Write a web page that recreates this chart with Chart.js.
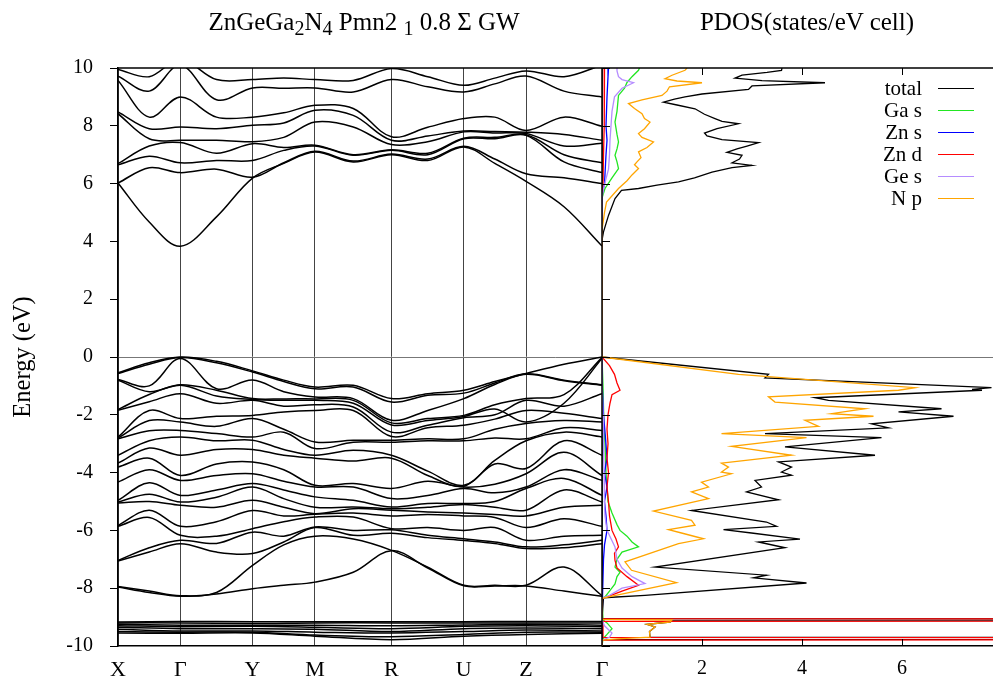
<!DOCTYPE html>
<html>
<head>
<meta charset="utf-8">
<script src="https://cdn.jsdelivr.net/npm/chart.js@4.4.1/dist/chart.umd.min.js"></script>
<style>
  body { margin: 0; background: #fff; }
  #wrap { position: relative; width: 993px; height: 683px; font-family: "Liberation Serif", serif; color: #000; }
  #chart { position: absolute; left: 0; top: 0; }
  .title { position: absolute; top: 9px; font-size: 25px; line-height: 25px; white-space: nowrap; transform: translateX(-50%); }
  .title sub { font-size: 20px; vertical-align: -5px; line-height: 0; }
  #legend { position: absolute; right: 19px; top: 77px; font-size: 21px; }
  #legend div { height: 22.1px; display: flex; align-items: center; justify-content: flex-end; }
  #legend span.sw { display: inline-block; width: 36px; height: 0; border-top: 1.5px solid; margin-left: 16px; }
</style>
</head>
<body>
<div id="wrap">
  <canvas id="chart" width="993" height="683"></canvas>
  <div class="title" style="left:364px">ZnGeGa<sub>2</sub>N<sub>4</sub> Pmn2 <sub>1</sub> 0.8 Σ GW</div>
  <div class="title" style="left:807px">PDOS(states/eV cell)</div>
  <div id="legend"></div>
</div>
<script>
// high symmetry points along the path
const kPos = [0, 0.129, 0.278, 0.407, 0.565, 0.7145, 0.843, 1.0];
const kLabels = ["X", "Γ", "Y", "M", "R", "U", "Z", "Γ"];
// sample points: high symmetry points plus the middle of each segment
const kGrid = [0, 0.0645, 0.129, 0.2035, 0.278, 0.3425, 0.407, 0.486, 0.565, 0.64, 0.7145, 0.7785, 0.843, 0.9215, 1.0];

// conduction bands (eV), one row per point of kGrid
const conduction = [
  [6.02, 6.02, 6.65, 6.69, 8.42, 8.48, 9.57, 9.72, 9.95, 10.3],
  [4.67, 6.55, 6.95, 7.30, 7.55, 7.90, 8.30, 9.20, 9.70, 10.2],
  [3.83, 6.38, 6.72, 7.42, 7.50, 7.96, 9.00, 10.1, 10.3, 10.5],
  [4.85, 6.50, 6.80, 7.05, 7.50, 7.90, 8.30, 8.90, 9.60, 10.2],
  [6.19, 6.22, 6.80, 7.38, 7.45, 8.02, 8.30, 9.31, 9.60, 10.1],
  [6.70, 6.72, 7.15, 7.25, 7.60, 8.10, 8.45, 9.30, 9.65, 10.2],
  [7.09, 7.12, 7.30, 7.33, 8.13, 8.54, 8.71, 9.31, 9.60, 10.2],
  [6.75, 6.78, 6.98, 7.00, 7.96, 8.36, 8.60, 9.17, 9.57, 10.2],
  [7.00, 7.02, 7.15, 7.17, 7.35, 7.50, 7.62, 9.60, 9.98, 10.3],
  [6.80, 6.85, 7.00, 7.05, 7.45, 7.65, 7.95, 9.35, 9.70, 10.2],
  [7.27, 7.29, 7.55, 7.57, 7.79, 7.82, 8.25, 9.17, 9.40, 10.2],
  [6.70, 6.85, 7.55, 7.60, 7.75, 7.80, 8.30, 9.45, 9.65, 10.2],
  [6.08, 6.34, 7.67, 7.69, 7.73, 7.78, 7.84, 9.72, 9.90, 10.2],
  [5.20, 6.20, 6.75, 7.00, 7.30, 7.70, 8.30, 9.20, 9.70, 10.2],
  [3.84, 6.00, 6.38, 6.72, 7.40, 7.50, 7.98, 9.00, 10.1, 10.3],
];

// valence bands (eV), one row per point of kGrid
const valence = [
  [-0.55, -0.57, -0.78, -0.80, -1.82, -1.84, -2.77, -2.80, -2.83, -3.40, -3.67, -3.81, -4.33, -4.96, -5.02, -5.05, -5.83, -5.86, -7.04, -7.06, -7.94, -7.96],
  [-0.20, -0.25, -1.00, -1.20, -1.30, -1.55, -1.85, -2.20, -2.55, -2.90, -3.15, -3.50, -3.90, -4.35, -4.75, -5.00, -5.30, -5.55, -6.60, -6.75, -8.10, -8.15],
  [0.00, -0.02, -0.05, -0.96, -0.98, -1.27, -2.13, -2.25, -2.54, -2.77, -3.40, -4.10, -4.27, -4.79, -5.02, -5.13, -5.86, -6.17, -6.34, -6.46, -8.26, -8.28],
  [-0.15, -0.20, -1.10, -1.15, -1.35, -1.60, -2.05, -2.40, -2.65, -2.90, -3.20, -3.70, -4.10, -4.60, -4.85, -5.20, -5.70, -6.20, -6.45, -6.75, -8.15, -8.20],
  [-0.48, -0.52, -0.80, -1.44, -1.47, -1.50, -2.02, -2.13, -2.77, -2.88, -3.20, -3.63, -4.04, -4.38, -4.50, -4.96, -5.31, -5.94, -6.06, -6.80, -7.21, -8.02],
  [-0.80, -0.85, -1.20, -1.45, -1.50, -1.70, -1.90, -2.50, -2.60, -3.20, -3.40, -3.90, -4.30, -4.60, -4.90, -5.20, -5.50, -5.70, -6.20, -6.40, -6.50, -7.90],
  [-1.04, -1.10, -1.38, -1.45, -1.50, -1.65, -1.85, -2.94, -3.17, -3.40, -3.50, -4.44, -4.50, -4.84, -5.20, -5.42, -5.44, -5.54, -5.88, -5.90, -6.20, -7.79],
  [-0.98, -1.04, -1.44, -1.50, -1.60, -1.73, -1.85, -2.88, -2.95, -3.23, -3.60, -4.38, -4.50, -4.96, -5.19, -5.25, -5.40, -5.54, -6.00, -6.17, -6.30, -7.45],
  [-1.44, -1.56, -2.19, -2.28, -2.35, -2.60, -2.75, -2.88, -2.95, -3.40, -3.50, -4.55, -4.90, -5.19, -5.25, -5.30, -5.50, -5.94, -5.98, -6.10, -6.69, -6.70],
  [-1.27, -1.32, -1.85, -2.13, -2.20, -2.36, -2.45, -2.83, -2.90, -3.95, -4.10, -4.30, -4.79, -5.07, -5.20, -5.36, -5.45, -5.90, -6.17, -6.25, -7.27, -7.30],
  [-1.15, -1.25, -1.44, -2.02, -2.06, -2.10, -2.36, -2.83, -2.90, -4.44, -4.47, -4.50, -4.55, -5.07, -5.10, -5.40, -5.50, -6.00, -6.29, -6.35, -7.90, -7.92],
  [-0.85, -0.90, -0.95, -1.65, -1.80, -2.00, -2.15, -2.50, -2.80, -3.58, -3.70, -4.40, -4.70, -5.00, -5.20, -5.45, -5.55, -5.90, -6.40, -6.45, -7.90, -7.92],
  [-0.57, -0.58, -0.60, -1.44, -2.25, -1.50, -1.85, -2.30, -2.83, -2.90, -3.86, -4.04, -4.50, -4.55, -5.30, -5.50, -5.90, -6.34, -6.57, -6.63, -7.90, -7.92],
  [-0.25, -0.80, -0.82, -1.30, -1.60, -1.70, -1.95, -2.20, -2.45, -2.60, -2.90, -3.30, -3.90, -4.20, -4.60, -5.20, -5.60, -6.20, -6.50, -6.60, -7.27, -8.10],
  [0.00, -0.96, -0.98, -0.02, -0.05, -1.27, -2.13, -2.25, -2.54, -2.77, -3.40, -4.10, -4.27, -4.79, -5.02, -5.13, -5.86, -6.17, -6.34, -6.46, -8.26, -8.28],
];

// Zn d bands (eV), one row per high symmetry point
const znDBands = [
  [-9.17, -9.20, -9.25, -9.30, -9.35, -9.42, -9.50, -9.55],
  [-9.15, -9.20, -9.28, -9.33, -9.40, -9.48, -9.52, -9.56],
  [-9.16, -9.22, -9.28, -9.32, -9.40, -9.48, -9.52, -9.55],
  [-9.16, -9.20, -9.28, -9.35, -9.42, -9.52, -9.62, -9.66],
  [-9.16, -9.20, -9.30, -9.40, -9.50, -9.55, -9.68, -9.78],
  [-9.16, -9.20, -9.27, -9.32, -9.40, -9.50, -9.60, -9.66],
  [-9.15, -9.20, -9.25, -9.30, -9.38, -9.45, -9.52, -9.60],
  [-9.15, -9.20, -9.28, -9.33, -9.40, -9.48, -9.52, -9.56],
];

// PDOS curves as [energy, states/eV cell]
const pdosTotal = [
  [10.0, 3.6], [9.92, 3.59], [9.85, 3.3], [9.75, 2.8], [9.65, 2.66], [9.56, 3.2], [9.49, 4.46], [9.38, 3.0],
  [9.26, 2.93], [9.1, 2.0], [9.0, 1.66], [8.92, 1.45], [8.82, 1.23], [8.72, 1.5], [8.59, 1.86], [8.4, 2.05],
  [8.25, 2.26], [8.15, 2.4], [8.07, 2.73], [7.9, 2.3], [7.75, 2.05], [7.65, 2.1], [7.52, 2.4], [7.42, 3.13],
  [7.3, 2.9], [7.2, 2.7], [7.08, 2.5], [6.98, 2.8], [6.85, 2.75], [6.72, 2.6], [6.63, 3.0], [6.55, 2.6],
  [6.4, 2.2], [6.2, 1.85], [6.06, 1.53], [5.95, 1.1], [5.83, 0.73], [5.77, 0.39], [5.48, 0.26], [4.9, 0.13],
  [4.33, 0.03], [4.04, 0], [0, 0], [-0.6, 3.33], [-0.72, 3.26], [-1.06, 7.79], [-1.12, 7.4], [-1.15, 7.6],
  [-1.41, 4.26], [-1.5, 4.53], [-1.79, 6.79], [-1.9, 5.93], [-2.05, 7.03], [-2.31, 5.39], [-2.45, 5.73],
  [-2.65, 3.26], [-2.79, 5.59], [-3.11, 3.66], [-3.4, 5.46], [-3.63, 3.53], [-3.81, 3.79], [-3.98, 3.59],
  [-4.09, 3.79], [-4.27, 3.06], [-4.5, 3.19], [-4.67, 2.89], [-4.94, 3.53], [-5.31, 1.79], [-5.71, 3.29],
  [-5.86, 3.49], [-5.97, 2.43], [-6.09, 2.99], [-6.3, 3.96], [-6.4, 3.13], [-6.6, 3.66], [-7.27, 1.06],
  [-7.55, 3.29], [-7.64, 3.03], [-7.82, 4.09], [-8.25, 0.86], [-8.33, 0.03], [-9.05, 0], [-9.1, 40],
  [-9.13, 1.4], [-9.17, 1.36], [-9.25, 0.9], [-9.34, 1.06], [-9.5, 0.95], [-9.69, 0.96], [-9.74, 40],
  [-9.78, 0], [-10, 0],
];
const pdosGaS = [
  [10.0, 0.75], [9.92, 0.73], [9.7, 0.6], [9.5, 0.5], [9.3, 0.45], [9.05, 0.33], [8.5, 0.3], [8.13, 0.26],
  [7.7, 0.3], [7.44, 0.33], [7.2, 0.3], [6.98, 0.26], [6.75, 0.3], [6.52, 0.33], [6.2, 0.2], [5.83, 0.06],
  [5.5, 0], [0, 0], [-1.0, 0.02], [-2.5, 0.04], [-3.0, 0.06], [-4.0, 0.08], [-4.5, 0.1], [-5.0, 0.12],
  [-5.4, 0.2], [-5.8, 0.3], [-6.0, 0.36], [-6.2, 0.5], [-6.4, 0.6], [-6.57, 0.73], [-6.75, 0.4], [-7.0, 0.3],
  [-7.27, 0.26], [-7.45, 0.36], [-7.6, 0.3], [-7.85, 0.26], [-8.1, 0.15], [-8.3, 0.06], [-8.35, 0],
  [-9.1, 0.02], [-9.2, 0.1], [-9.4, 0.2], [-9.6, 0.1], [-9.75, 0.02], [-10, 0],
];
const pdosZnS = [
  [10.0, 0.13], [9.7, 0.12], [9.0, 0.1], [8.0, 0.08], [7.5, 0.1], [7.0, 0.08], [6.0, 0.05], [5.6, 0],
  [0, 0], [-1.0, 0.01], [-2.0, 0.03], [-2.8, 0.07], [-3.5, 0.1], [-4.0, 0.05], [-4.5, 0.1], [-5.0, 0.05],
  [-5.5, 0.08], [-6.0, 0.1], [-6.5, 0.05], [-7.0, 0.03], [-8.3, 0.01], [-8.35, 0], [-10, 0],
];
const pdosZnD = [
  [10.0, 0.05], [9.0, 0.05], [8.0, 0.04], [7.0, 0.03], [6.0, 0.02], [5.5, 0], [0, 0], [-0.3, 0.15],
  [-0.6, 0.25], [-0.9, 0.3], [-1.15, 0.36], [-1.3, 0.2], [-1.6, 0.16], [-2.0, 0.12], [-2.5, 0.1],
  [-3.0, 0.12], [-3.5, 0.1], [-4.0, 0.13], [-4.5, 0.1], [-5.0, 0.13], [-5.5, 0.15], [-6.0, 0.2],
  [-6.3, 0.28], [-6.57, 0.33], [-6.8, 0.25], [-7.04, 0.26], [-7.3, 0.3], [-7.6, 0.5], [-7.9, 0.73],
  [-8.1, 0.4], [-8.3, 0.1], [-8.35, 0], [-9.05, 0], [-9.1, 40], [-9.15, 0.02], [-9.4, 0.02], [-9.7, 0.02],
  [-9.74, 40], [-9.8, 0], [-10, 0],
];
const pdosGeS = [
  [10.0, 0.3], [9.9, 0.3], [9.7, 0.33], [9.6, 0.4], [9.49, 0.63], [9.3, 0.4], [9.0, 0.25], [8.5, 0.2],
  [8.0, 0.18], [7.5, 0.16], [7.0, 0.15], [6.5, 0.13], [5.83, 0.03], [5.5, 0], [0, 0], [-1.0, 0.01],
  [-2.0, 0.02], [-3.0, 0.03], [-4.0, 0.04], [-5.0, 0.05], [-5.5, 0.06], [-6.0, 0.1], [-6.57, 0.26],
  [-7.0, 0.3], [-7.3, 0.4], [-7.6, 0.6], [-7.84, 0.86], [-8.0, 0.4], [-8.25, 0.15], [-8.35, 0],
  [-9.1, 0], [-9.3, 0.05], [-9.55, 0.2], [-9.7, 0.15], [-9.8, 0], [-10, 0],
];
const pdosNp = [
  [10.0, 1.7], [9.92, 1.66], [9.75, 1.4], [9.63, 1.26], [9.55, 1.5], [9.49, 2.0], [9.35, 1.35], [9.2, 1.3],
  [9.05, 1.2], [8.9, 0.8], [8.77, 0.53], [8.6, 0.65], [8.42, 0.8], [8.25, 0.85], [8.13, 0.96], [7.9, 0.85],
  [7.73, 0.73], [7.6, 0.8], [7.44, 1.03], [7.25, 0.9], [7.1, 0.73], [6.9, 0.78], [6.75, 0.7], [6.65, 0.65],
  [6.52, 0.73], [6.3, 0.6], [6.1, 0.5], [5.83, 0.33], [5.36, 0.09], [5.0, 0.05], [4.4, 0], [0, 0],
  [-0.6, 2.73], [-1.06, 6.26], [-1.15, 5.93], [-1.38, 3.33], [-1.56, 3.46], [-1.79, 5.26], [-1.96, 4.59],
  [-2.05, 5.43], [-2.19, 4.06], [-2.4, 4.33], [-2.65, 2.39], [-2.79, 4.09], [-3.09, 2.59], [-3.4, 3.79],
  [-3.67, 2.39], [-3.81, 2.53], [-3.98, 2.39], [-4.04, 2.59], [-4.33, 1.99], [-4.5, 2.13], [-4.67, 1.79],
  [-4.9, 2.13], [-5.33, 1.03], [-5.65, 1.79], [-5.82, 1.86], [-5.97, 1.33], [-6.09, 1.59], [-6.29, 2.03],
  [-6.46, 1.53], [-7.09, 0.46], [-7.38, 0.59], [-7.81, 1.49], [-8.3, 0.13], [-8.35, 0], [-9.08, 0],
  [-9.1, 1.4], [-9.17, 1.36], [-9.25, 0.9], [-9.34, 1.06], [-9.5, 0.95], [-9.69, 0.96], [-9.75, 0.3],
  [-9.8, 0], [-10, 0],
];

const pdosNames = ["total", "Ga s", "Zn s", "Zn d", "Ge s", "N p"];
const pdosCurves = [pdosTotal, pdosGaS, pdosZnS, pdosZnD, pdosGeS, pdosNp];
const pdosColors = ["#000000", "#22e622", "#0000ff", "#ff0000", "#b58cff", "#ffa500"];
const pdosTicks = [2, 4, 6];

const font = "Liberation Serif";

// one line per band: row i of the table gives the point at kGrid[i]
function bandDatasets(table, ks) {
  const sets = [];
  for (let b = 0; b < table[0].length; b++) {
    sets.push({
      data: ks.map((k, i) => ({ x: k, y: table[i][b] })),
      xAxisID: "x",
      yAxisID: "y",
      borderColor: "#000",
      borderWidth: 1.5,
      pointRadius: 0,
      showLine: true,
      tension: 0.35,
      order: 20,
    });
  }
  return sets;
}

const pdosDatasets = pdosCurves.map((curve, i) => ({
  label: pdosNames[i],
  data: curve.map(([e, d]) => ({ x: d, y: e })),
  xAxisID: "x2",
  yAxisID: "y",
  borderColor: pdosColors[i],
  borderWidth: 1.3,
  pointRadius: 0,
  showLine: true,
  tension: 0,
  order: pdosCurves.length - i,
}));

// box lines and gnuplot style inward ticks on the PDOS panel
const framePlugin = {
  id: "frame",
  afterDatasetsDraw(chart) {
    const { ctx, chartArea: a, scales } = chart;
    const x2 = scales.x2;
    const y = scales.y;
    ctx.save();
    ctx.strokeStyle = "#000";
    ctx.lineWidth = 1.5;
    ctx.beginPath();
    ctx.moveTo(a.left, a.top);
    ctx.lineTo(a.right, a.top);
    ctx.moveTo(x2.left, a.top);
    ctx.lineTo(x2.left, a.bottom);
    ctx.stroke();
    ctx.lineWidth = 1;
    ctx.beginPath();
    pdosTicks.forEach((v) => {
      const px = Math.round(x2.getPixelForValue(v)) + 0.5;
      ctx.moveTo(px, a.bottom);
      ctx.lineTo(px, a.bottom - 7);
      ctx.moveTo(px, a.top);
      ctx.lineTo(px, a.top + 7);
    });
    y.ticks.forEach((t) => {
      const py = Math.round(y.getPixelForValue(t.value)) + 0.5;
      ctx.moveTo(x2.left, py);
      ctx.lineTo(x2.left + 8, py);
    });
    ctx.stroke();
    ctx.restore();
  },
};

// fixed box sizes so the plot area matches the original frame
function fitBottom(s) {
  s.height = 37;
  s.paddingLeft = 0;
  s.paddingRight = 0;
}

new Chart(document.getElementById("chart"), {
  type: "scatter",
  data: {
    datasets: [
      ...pdosDatasets,
      ...bandDatasets(conduction, kGrid),
      ...bandDatasets(valence, kGrid),
      ...bandDatasets(znDBands, kPos),
    ],
  },
  options: {
    responsive: false,
    animation: false,
    layout: { padding: { top: 68, left: 0, right: 0, bottom: 0 } },
    plugins: { legend: { display: false }, tooltip: { enabled: false } },
    scales: {
      x: {
        type: "linear",
        position: "bottom",
        stack: "k",
        stackWeight: 484,
        min: 0,
        max: 1,
        afterFit: fitBottom,
        afterBuildTicks: (s) => { s.ticks = kPos.map((v) => ({ value: v })); },
        ticks: {
          autoSkip: false,
          maxRotation: 0,
          padding: 11,
          color: "#000",
          font: { family: font, size: 22 },
          callback: (v, i) => kLabels[i],
        },
        grid: { color: "#444", lineWidth: 1, drawTicks: false },
        border: { display: true, color: "#000", width: 1.5 },
      },
      x2: {
        type: "linear",
        position: "bottom",
        stack: "k",
        stackWeight: 391,
        min: 0,
        max: 7.82,
        afterFit: fitBottom,
        afterBuildTicks: (s) => { s.ticks = pdosTicks.map((v) => ({ value: v })); },
        ticks: {
          autoSkip: false,
          maxRotation: 0,
          padding: 11,
          color: "#000",
          font: { family: font, size: 20 },
        },
        grid: { drawOnChartArea: false, drawTicks: false },
        border: { display: true, color: "#000", width: 1.5 },
      },
      y: {
        type: "linear",
        position: "left",
        min: -10,
        max: 10,
        afterFit: (s) => { s.width = 118; },
        ticks: {
          stepSize: 2,
          padding: 17,
          color: "#000",
          font: { family: font, size: 20 },
        },
        grid: {
          color: (c) => (c.tick && c.tick.value === 0 ? "#777" : "rgba(0,0,0,0)"),
          tickColor: "#000",
          tickLength: 8,
          lineWidth: 1,
        },
        border: { display: true, color: "#000", width: 1.5 },
        title: {
          display: true,
          text: "Energy (eV)",
          color: "#000",
          font: { family: font, size: 24.5 },
          padding: { top: 9, bottom: 0 },
        },
      },
    },
  },
  plugins: [framePlugin],
});

// gnuplot style key: text on the left, line sample on the right
const legend = document.getElementById("legend");
pdosNames.forEach((name, i) => {
  const row = document.createElement("div");
  row.innerHTML = `<span>${name}</span><span class="sw" style="border-color:${pdosColors[i]}"></span>`;
  legend.appendChild(row);
});
</script>
</body>
</html>
